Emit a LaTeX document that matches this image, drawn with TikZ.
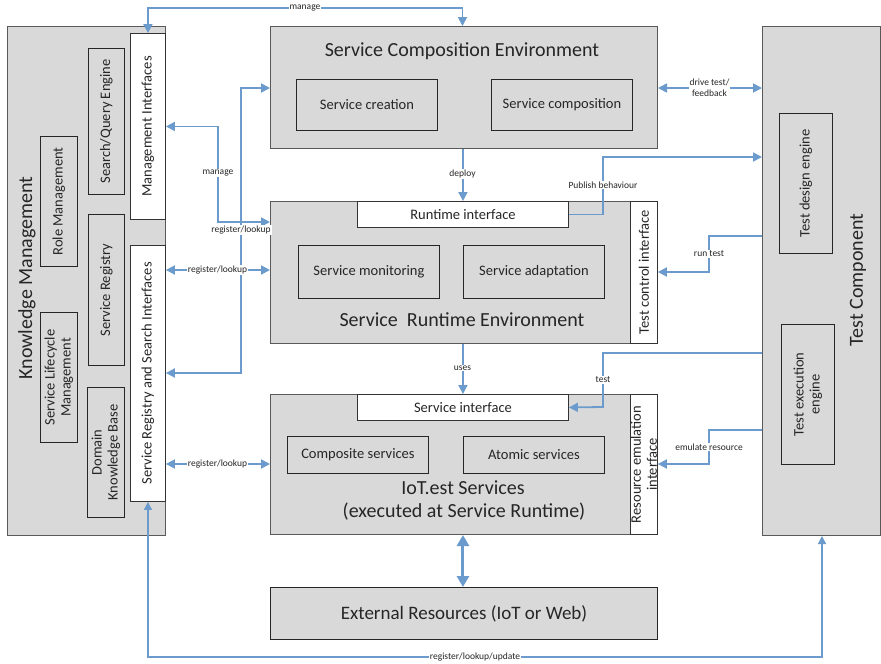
\documentclass[tikz,border=0pt]{standalone}
\usepackage{fontspec}
\setmainfont{Carlito}
\usetikzlibrary{arrows.meta}
\definecolor{boxgray}{RGB}{217,217,217}
\definecolor{lineblue}{RGB}{106,155,204}
\definecolor{edgegray}{RGB}{89,89,89}
\definecolor{txt}{RGB}{38,38,38}
\begin{document}
\begin{tikzpicture}[x=1pt,y=-1pt,
 outer/.style={draw=edgegray, fill=boxgray, line width=1pt, inner sep=0pt, anchor=north west},
 inbox/.style={draw=black!85, fill=boxgray, line width=0.9pt, inner sep=0pt, anchor=north west, text=txt, font=\fontsize{14.5}{16}\selectfont, align=center},
 wbox/.style={draw=black!80, fill=white, line width=0.9pt, inner sep=0pt, anchor=north west, text=txt, font=\fontsize{14.5}{16}\selectfont, align=center},
 rtext/.style={rotate=90, text=txt, font=\fontsize{14.5}{16}\selectfont, align=center, inner sep=0pt},
 title/.style={text=txt, font=\fontsize{20}{24}\selectfont, align=center, inner sep=0pt},
 lbl/.style={fill=white, text=txt, font=\fontsize{9.5}{11}\selectfont, inner sep=1pt, align=center},
 conn/.style={draw=lineblue, line width=1.8pt, -{Triangle[length=9pt,width=9pt]}},
 conntwo/.style={draw=lineblue, line width=1.8pt, {Triangle[length=9pt,width=9pt]}-{Triangle[length=9pt,width=9pt]}},
 connthin/.style={draw=lineblue, line width=1.3pt, {Triangle[length=8pt,width=8pt]}-{Triangle[length=8pt,width=8pt]}},
 connthick/.style={draw=lineblue, line width=3pt, {Triangle[length=11pt,width=12pt]}-{Triangle[length=11pt,width=12pt]}},
]
\useasboundingbox (0,0) rectangle (881,664);
\fill[white] (0,0) rectangle (881,664);

% Knowledge Management
\node[outer, minimum width=158pt, minimum height=509pt] (km) at (7,26) {};
\node[title, rotate=90] (kmt) at (27,278) {Knowledge Management};
\node[wbox, minimum width=35pt, minimum height=186pt] (mi) at (130,33) {};
\node[rtext] (mit) at (mi.center) {Management Interfaces};
\node[wbox, minimum width=35pt, minimum height=256pt] (sri) at (130,245) {};
\node[rtext] (srit) at (sri.center) {Service Registry and Search Interfaces};
\node[inbox, minimum width=36pt, minimum height=146pt] (sqe) at (88,48) {};
\node[rtext] (sqet) at (sqe.center) {Search/Query Engine};
\node[inbox, minimum width=37pt, minimum height=130pt] (rm) at (40,136) {};
\node[rtext] (rmt) at (rm.center) {Role Management};
\node[inbox, minimum width=36pt, minimum height=151pt] (sr) at (88,214) {};
\node[rtext] (srt) at (sr.center) {Service Registry};
\node[inbox, minimum width=37pt, minimum height=130pt] (slm) at (40,312) {};
\node[rtext] (slmt) at (slm.center) {Service Lifecycle\\Management};
\node[inbox, minimum width=37pt, minimum height=130pt] (dkb) at (87,387) {};
\node[rtext] (dkbt) at (dkb.center) {Domain\\Knowledge Base};

% Service Composition Environment
\node[outer, minimum width=387pt, minimum height=122pt] (sce) at (270,26) {};
\node[title] (scet) at (462,51) {Service Composition Environment};
\node[inbox, minimum width=141pt, minimum height=51pt] (scr) at (296,79) {Service creation};
\node[inbox, minimum width=141pt, minimum height=51pt] (scp) at (491,79) {Service composition};

% Service Runtime Environment
\node[outer, minimum width=360pt, minimum height=142pt] (sre) at (270,201) {};
\node[wbox, minimum width=27pt, minimum height=142pt] (tci) at (630,201) {};
\node[rtext] (tcit) at (tci.center) {Test control interface};
\node[wbox, minimum width=211pt, minimum height=26pt] (ri) at (357,201) {Runtime interface};
\node[inbox, minimum width=141pt, minimum height=53pt] (sm) at (298,245) {Service monitoring};
\node[inbox, minimum width=141pt, minimum height=53pt] (sa) at (463,245) {Service adaptation};
\node[title] (sret) at (462,320) {Service\ \ Runtime Environment};

% IoT.est Services
\node[outer, minimum width=360pt, minimum height=140pt] (iot) at (270,394) {};
\node[wbox, minimum width=27pt, minimum height=140pt] (rei) at (630,394) {};
\node[rtext] (reit) at (rei.center) {Resource emulation\\interface};
\node[wbox, minimum width=211pt, minimum height=26pt] (si) at (357,394) {Service interface};
\node[inbox, minimum width=141pt, minimum height=37pt] (cs) at (287,436) {Composite services};
\node[inbox, minimum width=141pt, minimum height=37pt] (as) at (463,436) {Atomic services};
\node[title] (iott) at (463,488) {IoT.est Services};
\node[title] (iott2) at (464,512) {(executed at Service Runtime)};

% External resources
\node[outer, draw=black!85, minimum width=387pt, minimum height=52pt] (ext) at (270,587) {};
\node[title, font=\fontsize{19}{22}\selectfont] (extt) at (ext.center) {External Resources (IoT or Web)};

% Test Component
\node[outer, minimum width=118pt, minimum height=509pt] (tc) at (762,26) {};
\node[title, rotate=90] (tct) at (858,280) {Test Component};
\node[inbox, minimum width=53pt, minimum height=140pt] (tde) at (779,113) {};
\node[rtext] (tdet) at (tde.center) {Test design engine};
\node[inbox, minimum width=53pt, minimum height=140pt] (tee) at (781,324) {};
\node[rtext] (teet) at (tee.center) {Test execution\\engine};

% Connectors
\draw[conntwo] (mi.north) -- (mi.north |- 0,8) -- (462.5,8) -- (sce.north -| 462.5,0);
\node[lbl] (l1) at (305,8) {manage};

\draw[conntwo] (mi.east) -| (218,222) -- (sre.west |- 0,222);
\node[lbl] (l2) at (218,173) {manage};

\draw[conntwo] (sce.west |- 0,88) -| (241,373) -- (sri.east |- 0,373);
\node[lbl] (l3) at (241,230) {register/lookup};

\draw[conntwo] (sri.east |- 0,270) -- (sre.west |- 0,270);
\node[lbl] (l4) at (217.5,270) {register/lookup};

\draw[conntwo] (sri.east |- 0,464) -- (iot.west |- 0,464);
\node[lbl] (l5) at (217.5,464) {register/lookup};

\draw[conn] (ri.north |- sce.south) -- (ri.north);
\node[lbl] (l6) at (462.5,174) {deploy};

\draw[conn] (si.north |- sre.south) -- (si.north);
\node[lbl] (l7) at (462.5,368) {uses};

\draw[conntwo] (sce.east |- 0,88) -- (tc.west |- 0,88);
\node[lbl] (l8) at (709.5,88) {drive test/\\feedback};

\draw[conn] (ri.east) -| (603,157) -- (tc.west |- 0,157);
\node[lbl] (l9) at (603,185) {Publish behaviour};

\draw[conn] (tc.west |- 0,236) -| (709,272) -- (tci.east |- 0,272);
\node[lbl] (l10) at (709,254) {run test};

\draw[conn] (tc.west |- 0,353) -| (603,407) -- (si.east);
\node[lbl] (l11) at (603,380) {test};

\draw[conn] (tc.west |- 0,430) -| (709,464) -- (rei.east |- 0,464);
\node[lbl] (l12) at (709,447) {emulate resource};

\draw[connthick] (si.south |- iot.south) -- (si.south |- ext.north);

\draw[connthin] (sri.south) -- (sri.south |- 0,657) -- (822,657) -- (tc.south -| 822,0);
\node[lbl, inner sep=0.5pt] (l13) at (475,657) {register/lookup/update};
\end{tikzpicture}
\end{document}
